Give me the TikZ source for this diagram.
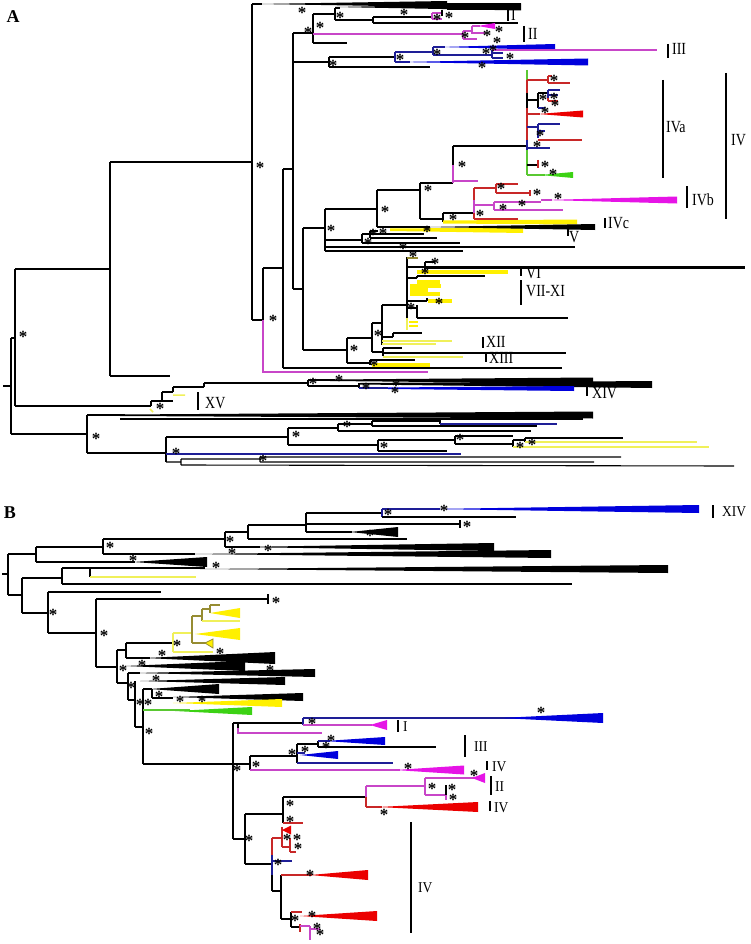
\documentclass[tikz,border=0pt]{standalone}
\usepackage{fontspec}
\setmainfont{Liberation Serif}
\usepackage{graphicx}
\definecolor{mgL}{RGB}{200,70,200}
\definecolor{mgW}{RGB}{230,20,230}
\definecolor{blL}{RGB}{30,30,150}
\definecolor{blW}{RGB}{0,0,220}
\definecolor{rdL}{RGB}{200,40,40}
\definecolor{rdW}{RGB}{235,0,0}
\definecolor{ylL}{RGB}{240,240,90}
\definecolor{ylW}{RGB}{255,240,0}
\definecolor{gnL}{RGB}{90,200,50}
\definecolor{gnW}{RGB}{60,210,20}
\definecolor{olL}{RGB}{150,140,50}
\newcounter{stc}
\newcommand\st[1]{\stepcounter{stc}\node[stars] (st\arabic{stc}) at (#1) {*};}
\newcommand\wdg[5]{\fill[#1] (#2,#3) -- (#4,{#3-#5}) -- (#4,{#3+#5}) -- cycle;}
\newcommand\sqA[1]{\scalebox{0.82}[1]{#1}}
\newcommand\sqB[1]{\scalebox{0.9}[1]{#1}}
\tikzset{
 br/.style={line width=1.1pt,black},
 mg/.style={line width=1.1pt,mgL},
 bl/.style={line width=1.1pt,blL},
 rd/.style={line width=1.1pt,rdL},
 yl/.style={line width=1.1pt,ylL},
 gn/.style={line width=1.1pt,gnL},
 ol/.style={line width=1.1pt,olL},
 bar/.style={line width=1.8pt,black},
 stars/.style={font=\fontsize{17}{17}\selectfont\bfseries,text=black,inner sep=0pt,anchor=center,yshift=-3pt},
 labA/.style={font=\fontsize{17}{17}\selectfont,inner sep=0pt,anchor=west},
 labB/.style={font=\fontsize{15}{15}\selectfont,inner sep=0pt,anchor=west},
 panel/.style={font=\fontsize{18}{18}\selectfont\bfseries,inner sep=0pt}
}
\begin{document}
\begin{tikzpicture}[x=1pt,y=-1pt]
\useasboundingbox (0,0) rectangle (750,944);
\fill[white] (0,0) rectangle (750,944);
%%%%%%%%%%%%%%%%%%%% PANEL A %%%%%%%%%%%%%%%%%%%%
\node[panel] (pA) at (13,17) {A};
% root
\draw[br] (3,386)--(11,386) (11,338)--(11,434) (11,338)--(15,338) (15,269)--(15,406);
\draw[br] (15,269)--(110,269) (110,162)--(110,376) (110,376)--(170,376);
\draw[br] (110,162)--(252,162) (252,4)--(252,320) (252,320)--(263,320) (263,268)--(263,320) (263,268)--(283,268);
\draw[mg] (263,320)--(263,372)--(428,372);
\draw[br] (283,169)--(283,368);
\draw[br,line width=2.6pt] (283,368)--(562,368);
\draw[br] (283,169)--(293,169) (293,33)--(293,289);
% top clade
\draw[br] (252,4)--(262,4);
\wdg{black}{258}{4}{447}{3}
\draw[br] (293,33)--(313,33) (313,14)--(313,43) (313,43)--(347,43);
\draw[br] (313,14)--(335,14) (335,8)--(335,20);
\draw[br] (335,8)--(340,8);
\wdg{black}{335}{7}{521}{3.5}
\fill[black] (447,3.5) rectangle (521,10);
\draw[br] (335,20)--(373,20) (373,17)--(373,23) (373,17)--(432,17) (373,23)--(518,23);
\draw[mg] (432,13)--(432,19) (432,13)--(442,13) (432,19)--(442,19);
\draw[br] (442,10)--(442,16);
\draw[bar] (508,10)--(508,21);
\node[labA] (lI) at (511,15) {\sqA{I}};
\draw[mg] (313,34)--(463,34) (463,31)--(463,39) (463,31)--(472,31) (472,26)--(472,34) (472,33)--(485,33) (463,39)--(477,39) (472,26)--(480,26);
\wdg{mgW}{478}{26}{495}{3}
\draw[bar] (524,26)--(524,42);
\node[labA] (lII) at (528,34) {\sqA{II}};
% III clade
\draw[br] (293,62)--(329,62) (329,57)--(329,67) (329,67)--(430,67) (329,57)--(395,57);
\draw[bl] (395,52)--(395,62) (395,52)--(433,52) (433,47)--(433,55) (433,47)--(445,47) (433,55)--(492,55) (492,50)--(492,58) (492,53)--(503,53) (492,58)--(503,58) (395,62)--(410,62);
\wdg{blW}{440}{47}{555}{3}
\draw[mg] (492,50)--(657,50);
\wdg{blW}{400}{62}{588}{3.5}
\draw[bar] (668,44)--(668,58);
\node[labA] (lIII) at (672,49) {\sqA{III}};
% central clades
\draw[br] (293,289)--(303,289) (303,228)--(303,350);
\draw[br] (303,228)--(325,228) (325,209)--(325,251);
\draw[br] (325,209)--(377,209) (377,190)--(377,227);
\draw[br] (377,190)--(420,190) (420,183)--(420,219) (420,183)--(453,183);
\draw[br] (453,146)--(453,165);
\draw[mg] (453,165)--(453,183) (453,181)--(478,181);
\draw[br] (453,146)--(527,146);
% IVa
\draw[gn] (527,70)--(527,80);
\draw[rd] (527,80)--(527,93);
\draw[br] (527,93)--(527,108);
\draw[rd] (527,108)--(527,140);
\draw[bl] (527,140)--(527,150);
\draw[gn] (527,150)--(527,175);
\draw[rd] (527,80)--(548,80) (548,76)--(548,83) (548,76)--(552,76) (548,83)--(570,83);
\draw[br] (527,100)--(538,100) (538,93)--(538,108) (538,93)--(548,93);
\draw[bl] (548,90)--(548,98) (548,90)--(560,90) (548,95)--(558,95) (538,108)--(545,108);
\draw[rd] (548,98)--(548,101) (548,101)--(558,101);
\draw[rd] (527,114)--(540,114);
\wdg{rdW}{538}{114}{583}{3.5}
\draw[bl] (527,127)--(538,127) (538,124)--(538,138) (538,124)--(560,124) (538,131)--(545,131);
\draw[rd] (538,140)--(582,140);
\draw[bl] (527,148)--(550,148);
\draw[br] (527,165)--(538,165);
\draw[rd] (538,160)--(538,168);
\draw[gn] (527,175)--(545,175);
\wdg{gnW}{540}{175}{573}{3}
\draw[bar] (663,80)--(663,178);
\node[labA] (lIVa) at (666,127) {\sqA{IVa}};
\draw[bar] (726,73)--(726,219);
\node[labA] (lIV) at (731,140) {\sqA{IV}};
% IVb
\draw[br] (420,219)--(443,219) (443,213)--(443,222) (443,213)--(474,213);
\fill[ylW] (443,220.5)--(577,219.5)--(577,224.5)--(443,223.5)--cycle;
\draw[rd] (474,188)--(474,200) (474,188)--(496,188) (496,184)--(496,193) (496,184)--(518,184) (496,193)--(530,193) (474,219)--(518,219) (474,213)--(474,219);
\draw[rd] (530,190)--(530,196);
\draw[mg] (474,200)--(474,213) (474,205)--(494,205) (494,202)--(494,210) (494,202)--(541,202) (494,210)--(563,210) (541,200)--(552,200);
\wdg{mgW}{545}{200}{677}{3.5}
\draw[bar] (687,186)--(687,208);
\node[labA] (lIVb) at (692,200) {\sqA{IVb}};
\draw[bar] (605,218)--(605,228);
\node[labA] (lIVc) at (608,223) {\sqA{IVc}};
% V
\draw[br] (377,227)--(430,227);
\fill[ylW] (390,228.5)--(523,227.5)--(523,233)--(390,231)--cycle;
\wdg{black}{427}{227}{595}{3}
\draw[bar] (568,228)--(568,236);
\node[labA] (lV) at (569,237) {\sqA{V}};
% N362 and others under N325
\draw[br] (325,240)--(362,240) (362,234)--(362,243) (362,234)--(370,234) (370,231)--(370,238) (370,231)--(378,231) (370,234)--(424,234) (370,238)--(437,238) (362,243)--(460,243);
\draw[br,line width=2.6pt] (325,247)--(575,247);
\draw[br] (325,251)--(463,251);
% N347
\draw[br] (303,350)--(347,350) (347,338)--(347,363) (347,338)--(372,338) (372,323)--(372,352) (372,323)--(382,323) (382,305)--(382,345);
\draw[br] (382,305)--(407,305) (407,257)--(407,318);
\draw[yl] (407,318)--(407,330);
\draw[ol] (407,258)--(418,258);
\draw[br] (407,267)--(425,267) (425,262)--(425,273) (425,262)--(435,262);
\draw[br,line width=3pt] (425,267)--(745,267);
\draw[ylW,line width=4pt] (417,272)--(508,272);
\draw[br] (407,278)--(417,278) (417,276)--(417,278) (417,276)--(485,276);
\draw[ylW,line width=3.5pt] (417,282)--(440,282) (410,286)--(441,286) (410,290)--(428,290) (410,294)--(440,294);
\draw[br] (407,301)--(427,301) (427,298)--(427,301);
\draw[ylW,line width=4pt] (428,301)--(452,301);
\draw[br] (407,308)--(417,308) (417,305)--(417,318);
\draw[br,line width=2pt] (417,318)--(568,318);
\draw[ylW,line width=2pt] (409,322)--(418,322) (409,326)--(418,326);
\draw[bar] (521,269)--(521,276);
\node[labA] (lVI) at (526,273) {\sqA{VI}};
\draw[bar] (521,280)--(521,305);
\node[labA] (lVII) at (526,291) {\sqA{VII-XI}};
\draw[br] (382,337)--(393,337) (393,333)--(393,337) (393,333)--(422,333);
\draw[yl,line width=1.6pt] (382,341)--(452,341) (382,344)--(436,344);
\draw[br] (372,352)--(383,352) (383,348)--(383,356) (383,348)--(402,348) (383,353)--(566,353);
\draw[yl,line width=1.6pt] (383,357)--(463,357);
\draw[br] (347,363)--(370,363) (370,360)--(370,365) (370,360)--(415,360);
\draw[ylW,line width=3.5pt] (372,365)--(430,365);
\draw[bar] (483,337)--(483,348);
\node[labA] (lXII) at (486,342) {\sqA{XII}};
\draw[bar] (486,353)--(486,362);
\node[labA] (lXIII) at (489,358) {\sqA{XIII}};
% XV / XIV
\draw[br] (15,406)--(151,406) (151,401)--(151,406) (151,401)--(162,401) (162,392)--(162,401) (162,401)--(173,401) (162,392)--(173,392) (173,387)--(173,392) (173,387)--(204,387) (204,383)--(204,387) (204,383)--(308,383);
\draw[yl,line width=1.5pt] (173,395)--(185,395) (150,409)--(153,412);
\draw[bar] (198,392)--(198,410);
\node[labA] (lXV) at (205,403) {\sqA{XV}};
\draw[br] (308,380)--(308,386) (308,380)--(335,380) (308,386)--(359,386) (359,383)--(359,388);
\fill[black] (330,379.5)--(593,377.5)--(593,383.5)--(330,381)--cycle;
\fill[black] (360,383)--(652,381)--(652,388)--(360,384.5)--cycle;
\draw[bl] (359,388)--(388,388);
\fill[blW] (388,387.5)--(574,386)--(574,391)--(388,389)--cycle;
\draw[bar] (587,386)--(587,396);
\node[labA] (lXIVa) at (592,393) {\sqA{XIV}};
% lower root clade
\draw[br] (11,434)--(87,434) (87,415)--(87,453) (87,415)--(125,415);
\fill[black] (120,414.5)--(593,411.5)--(593,418.5)--(120,416)--cycle;
\draw[br] (120,419)--(583,419);
\draw[br] (87,453)--(166,453) (166,437)--(166,462);
\draw[br] (166,437)--(288,437) (288,428)--(288,445) (288,428)--(338,428) (338,424)--(338,431) (338,431)--(531,431) (338,424)--(372,424) (372,421)--(372,426) (372,426)--(537,426) (372,421)--(440,421) (440,419)--(440,424) (440,419)--(583,419);
\draw[bl] (440,424)--(557,424);
\draw[br] (288,445)--(378,445) (378,440)--(378,451) (378,451)--(447,451) (378,440)--(455,440) (455,436)--(455,444) (455,436)--(513,436) (455,444)--(513,444) (513,440)--(513,447) (513,440)--(525,440) (525,438)--(525,442) (525,438)--(623,438);
\draw[yl,line width=1.5pt] (525,442)--(697,442) (513,447)--(709,447);
\draw[bl] (166,454)--(461,454);
\draw[br] (166,462)--(181,462) (181,459)--(181,465) (181,459)--(260,459) (260,457)--(260,462) (260,457)--(621,457) (260,462)--(594,462) (181,465)--(734,466);
% stars A
\st{23,334}\st{260,165}\st{273,318}\st{302,10}\st{340,15}\st{320,25}\st{308,30}
\st{404,12}\st{437,17}\st{449,15}\st{499,29}\st{487,33}\st{465,35}\st{497,40}
\st{333,63}\st{400,57}\st{437,52}\st{486,51}\st{493,48}\st{510,56}\st{482,65}
\st{554,78}\st{543,97}\st{554,96}\st{555,103}\st{545,110}\st{540,133}\st{537,144}
\st{545,164}\st{553,172}\st{462,164}\st{428,188}\st{385,209}\st{331,228}\st{453,217}
\st{501,186}\st{537,192}\st{558,196}\st{503,207}\st{522,203}\st{480,213}
\st{383,231}\st{427,229}\st{373,232}\st{368,241}\st{403,246}\st{413,254}
\st{435,261}\st{425,271}\st{439,301}\st{411,306}\st{378,333}\st{354,348}\st{374,363}
\st{160,406}\st{313,381}\st{339,378}\st{366,386}\st{396,383}\st{395,390}
\st{96,436}\st{176,451}\st{296,434}\st{347,424}\st{263,458}\st{384,445}\st{460,437}\st{520,445}\st{532,442}
%%%%%%%%%%%%%%%%%%%% PANEL B %%%%%%%%%%%%%%%%%%%%
\node[panel] (pB) at (10,513) {B};
\draw[br] (2,574)--(8,574) (8,554)--(8,595);
\draw[br] (8,554)--(36,554) (36,547)--(36,562);
\draw[br] (36,547)--(103,547) (103,539)--(103,554);
\draw[br] (103,539)--(225,539) (225,532)--(225,547);
\draw[br] (225,532)--(248,532) (248,525)--(248,539) (248,539)--(407,539);
\draw[br] (248,525)--(306,525) (306,513)--(306,532);
\draw[br] (306,513)--(382,513);
\draw[bl] (382,509)--(382,517) (382,509)--(440,509);
\wdg{blW}{430}{509}{699}{4}
\draw[br] (382,517)--(516,517);
\draw[br] (306,524)--(460,524) (460,520)--(460,528);
\draw[br] (306,532)--(352,532);
\wdg{black}{350}{532}{398}{5}
\draw[br] (225,547)--(260,547);
\wdg{black}{240}{547}{494}{4}
\draw[br] (103,554)--(195,554);
\wdg{black}{190}{554}{551}{4}
\draw[br] (36,562)--(135,562);
\wdg{black}{133}{562}{207}{5}
\draw[bar] (713,505)--(713,518);
\node[labB] (lXIVb) at (722,512) {\sqB{XIV}};
\draw[br] (8,595)--(22,595) (22,578)--(22,613);
\draw[br] (22,578)--(62,578) (62,568)--(62,584);
\draw[br] (62,568)--(90,568) (90,568)--(90,577) (90,568)--(205,568);
\wdg{black}{200}{569}{668}{4}
\draw[yl] (90,577)--(196,577);
\draw[br] (62,584)--(572,584);
\draw[br] (22,613)--(48,613) (48,592)--(48,633) (48,592)--(161,592);
\draw[br] (48,633)--(96,633) (96,599)--(96,667) (96,599)--(268,599) (268,594)--(268,604);
\draw[br] (96,667)--(117,667) (117,650)--(117,683);
\wdg{black}{125}{666}{245}{5}
\draw[br] (117,650)--(126,650) (126,643)--(126,658) (126,643)--(173,643) (126,658)--(150,658);
\wdg{black}{145}{658}{275}{6}
\draw[yl] (173,633)--(173,652) (173,633)--(192,633) (173,652)--(213,652);
\draw[ol] (192,616)--(192,643) (192,616)--(202,616) (202,609)--(202,621) (202,609)--(210,609) (210,605)--(210,613) (210,605)--(220,605) (192,643)--(207,643);
\wdg{ylW}{210}{613}{240}{5}
\draw[yl] (202,621)--(240,621);
\wdg{ylW}{195}{634}{240}{6}
\fill[ylW] (205,643)--(213,639)--(213,648)--cycle;
\draw[olL,line width=0.8pt] (205,643)--(213,639)--(213,648)--cycle;
\draw[br] (117,683)--(128,683) (128,673)--(128,700) (128,700)--(135,700) (135,681)--(135,727);
\wdg{black}{135}{673}{315}{4}
\draw[br] (128,673)--(140,673);
\wdg{black}{140}{681}{285}{4}
\draw[br] (135,727)--(143,727) (143,689)--(143,764) (143,689)--(152,689) (152,689)--(152,698) (152,698)--(173,698);
\draw[gn] (143,710)--(190,710);
\wdg{gnW}{175}{711}{252}{4}
\wdg{black}{150}{689}{219}{5}
\wdg{black}{173}{697}{303}{4}
\wdg{ylW}{173}{703}{282}{4}
% lower B
\draw[br] (143,764)--(233,764) (233,723)--(233,839);
\draw[br] (233,723)--(303,723) (238,723)--(238,728);
\draw[mg] (238,728)--(238,733)--(322,733);
\draw[bl] (303,718)--(303,725) (303,718)--(538,718);
\wdg{blW}{500}{718}{603}{5}
\draw[mg] (303,725)--(372,725);
\wdg{mgW}{370}{725}{387}{5}
\draw[bar] (398,720)--(398,732);
\node[labB] (lIb) at (403,727) {\sqB{I}};
\draw[br] (233,764)--(250,764) (250,756)--(250,770);
\draw[br] (250,756)--(297,756) (297,744)--(297,763);
\draw[br] (297,744)--(318,744) (318,741)--(318,747) (318,747)--(436,747);
\draw[bl] (318,741)--(330,741);
\wdg{blW}{325}{741}{385}{4}
\draw[bl] (297,753)--(305,753) (297,763)--(393,763);
\wdg{blW}{300}{755}{338}{4}
\draw[mg] (250,770)--(400,770);
\wdg{mgW}{395}{770}{464}{4.5}
\draw[bar] (465,735)--(465,757);
\node[labB] (lIIIb) at (474,747) {\sqB{III}};
\draw[bar] (487,761)--(487,770);
\node[labB] (lIVb1) at (492,767) {\sqB{IV}};
\draw[br] (233,839)--(245,839) (245,814)--(245,864);
\draw[br] (245,814)--(283,814) (283,797)--(283,823);
\draw[br] (283,797)--(366,797);
\draw[mg] (366,786)--(366,797) (366,786)--(425,786) (425,778)--(425,795) (425,778)--(474,778) (425,795)--(446,795);
\wdg{mgW}{472}{778}{485}{5}
\draw[br] (446,785)--(446,795);
\draw[mg] (446,795)--(446,800);
\draw[rd] (366,797)--(366,807) (366,807)--(382,807);
\wdg{rdW}{378}{807}{478}{5}
\draw[bar] (491,776)--(491,795);
\node[labB] (lIIb) at (495,787) {\sqB{II}};
\draw[bar] (490,801)--(490,811);
\node[labB] (lIVb2) at (494,808) {\sqB{IV}};
\draw[rd] (283,823)--(303,823);
\draw[br] (245,864)--(272,864);
\draw[rd] (272,838)--(272,855) (272,838)--(282,838) (282,827)--(282,847) (282,847)--(290,847) (290,838)--(290,852) (290,852)--(296,852);
\wdg{rdW}{282}{830}{291}{4.5}
\draw[bl] (272,855)--(272,875) (272,861)--(292,861);
\draw[br] (272,875)--(272,891) (272,891)--(281,891) (281,875)--(281,919);
\draw[rd] (281,875)--(312,875);
\wdg{rdW}{310}{875}{368}{5}
\draw[br] (281,919)--(291,919) (291,912)--(291,927) (291,927)--(300,927);
\draw[rd] (291,912)--(302,912) (300,924)--(300,932);
\wdg{rdW}{300}{916}{377}{5}
\draw[mg] (300,926)--(310,926) (310,926)--(310,940) (310,929)--(320,929);
\draw[bar] (411,822)--(411,933);
\node[labB] (lIVbig) at (418,888) {\sqB{IV}};
% stars B
\st{110,545}\st{230,539}\st{232,551}\st{268,548}\st{133,558}\st{216,565}\st{370,533}
\st{388,512}\st{444,508}\st{467,524}\st{53,612}\st{104,633}\st{276,600}\st{177,643}
\st{162,653}\st{220,651}\st{142,663}\st{123,668}\st{131,685}\st{270,668}\st{156,678}
\st{159,694}\st{180,699}\st{202,699}\st{140,702}\st{148,702}\st{149,731}\st{312,721}
\st{541,710}\st{256,764}\st{292,752}\st{331,738}\st{326,745}\st{305,749}\st{237,768}
\st{408,766}\st{474,773}\st{432,786}\st{452,787}\st{453,797}\st{384,812}\st{249,838}
\st{290,803}\st{290,819}\st{287,837}\st{297,837}\st{298,846}\st{278,862}\st{310,873}
\st{312,914}\st{295,918}\st{317,926}\st{320,932}
\end{tikzpicture}
\end{document}
